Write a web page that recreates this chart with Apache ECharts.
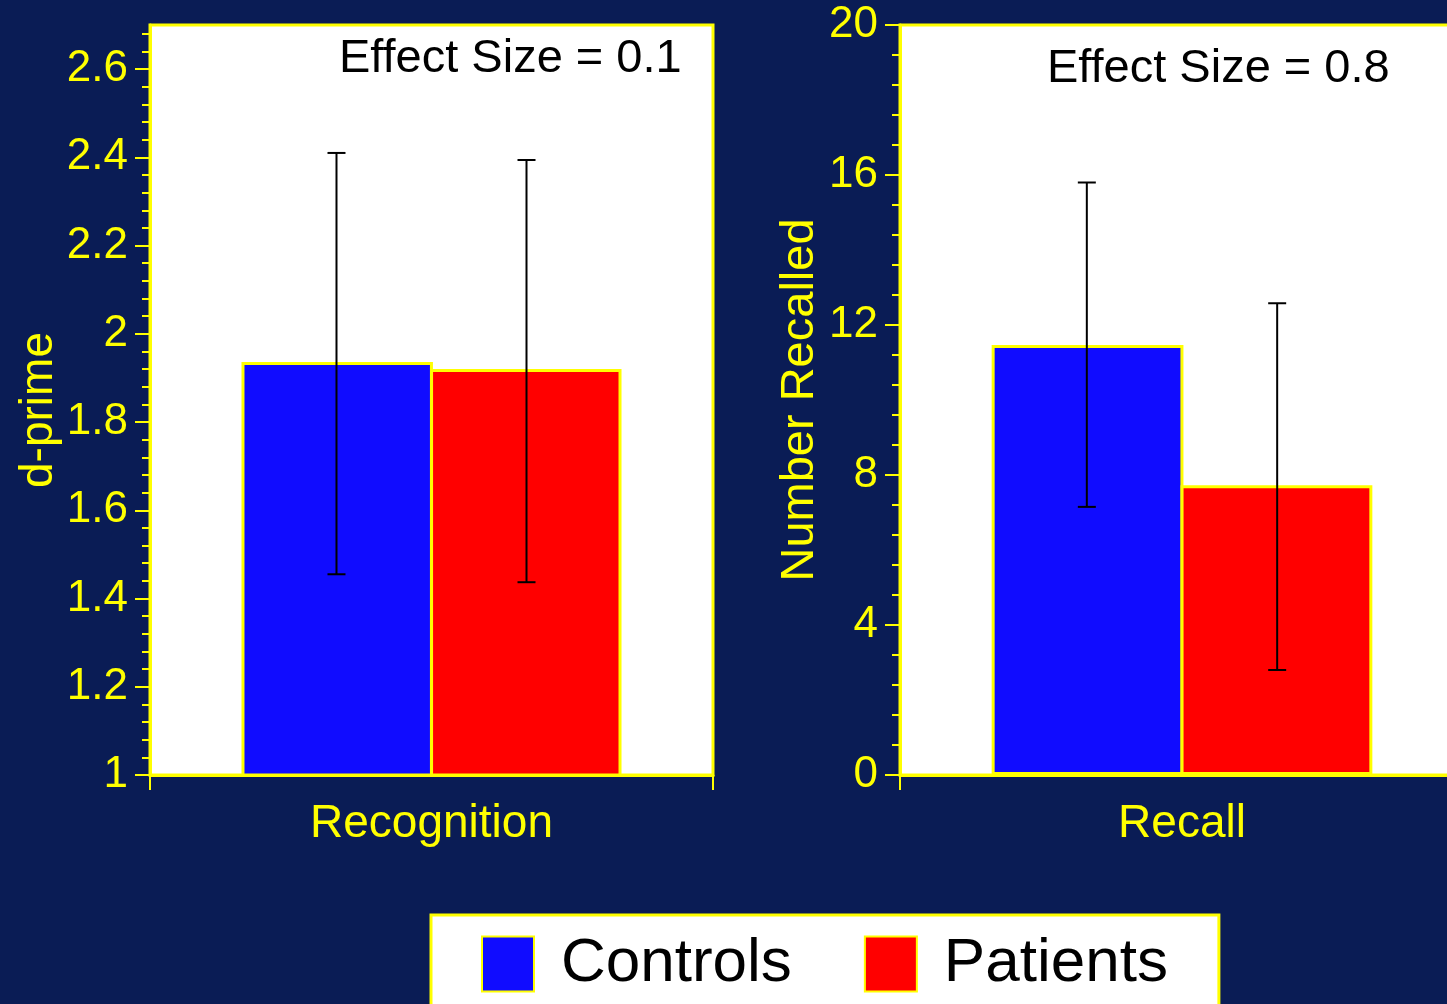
<!DOCTYPE html>
<html>
<head>
<meta charset="utf-8">
<script src="https://cdn.jsdelivr.net/npm/echarts@6/dist/echarts.min.js"></script>
<style>
html,body{margin:0;padding:0;background:#0a1c55;overflow:hidden;}
#chart{width:1470px;height:1004px;}
</style>
</head>
<body>
<div id="chart"></div>
<script>
const categoriesLeft = ['Recognition'];
const categoriesRight = ['Recall'];
const seriesNames = ['Controls', 'Patients'];
const recognitionMeans = [1.936, 1.92];
const recognitionLow = [1.455, 1.437];
const recognitionHigh = [2.41, 2.394];
const recallMeans = [11.47, 7.73];
const recallLow = [7.15, 2.8];
const recallHigh = [15.8, 12.58];
const dprimeTicks = [1, 1.2, 1.4, 1.6, 1.8, 2, 2.2, 2.4, 2.6];
const recalledTicks = [0, 4, 8, 12, 16, 20];
const effectSizes = ['Effect Size = 0.1', 'Effect Size = 0.8'];

const YEL = '#ffff00';
const BLUE = '#100cff';
const RED = '#ff0000';
const FONT = 'Liberation Sans, Arial, sans-serif';
const CAT_GAP = 0.325;

// minor tick positions: split each major interval into 5
const dprimeMinor = [];
for (let i = 0; i < dprimeTicks.length; i++) {
  const a = dprimeTicks[i];
  const step = 0.2 / 5;
  for (let k = 1; k <= 4; k++) dprimeMinor.push(+(a + k * step).toFixed(3));
}

const chart = echarts.init(document.getElementById('chart'));

function errItem(side) {
  return function (params, api) {
    const x = api.value(0);
    const lo = api.coord([x, api.value(1)]);
    const hi = api.coord([x, api.value(2)]);
    const bw = api.size([1, 0])[0];
    const cx = lo[0] + side * bw * (1 - CAT_GAP) / 4;
    const hw = 9;
    const st = { stroke: '#000', lineWidth: 2 };
    return {
      type: 'group',
      children: [
        { type: 'line', shape: { x1: cx, y1: hi[1], x2: cx, y2: lo[1] }, style: st },
        { type: 'line', shape: { x1: cx - hw, y1: hi[1], x2: cx + hw, y2: hi[1] }, style: st },
        { type: 'line', shape: { x1: cx - hw, y1: lo[1], x2: cx + hw, y2: lo[1] }, style: st }
      ]
    };
  };
}

const labelStyle = { color: YEL, fontSize: 44, fontFamily: FONT };
const catLabelStyle = { color: YEL, fontSize: 46, fontFamily: FONT };
const barGapPct = (CAT_GAP * 100) + '%';

const option = {
  backgroundColor: '#0a1c55',
  animation: false,
  textStyle: { fontFamily: FONT },
  title: [
    { text: effectSizes[0], left: 339, top: 36, padding: 0,
      textStyle: { fontSize: 47, color: '#000', fontWeight: 'normal', fontFamily: FONT } },
    { text: effectSizes[1], left: 1047, top: 46, padding: 0,
      textStyle: { fontSize: 47, color: '#000', fontWeight: 'normal', fontFamily: FONT } }
  ],
  legend: {
    data: seriesNames,
    left: 431, top: 915,
    orient: 'horizontal',
    padding: [18, 51, 18, 50],
    itemWidth: 52, itemHeight: 55, itemGap: 72,
    icon: 'rect',
    backgroundColor: '#ffffff',
    borderColor: YEL, borderWidth: 3,
    textStyle: { fontSize: 62, color: '#000', fontFamily: FONT, padding: [0, 0, 0, 22] },
    selectedMode: false
  },
  grid: [
    { left: 150, top: 25, width: 563, height: 750, show: true, backgroundColor: '#ffffff',
      borderColor: YEL, borderWidth: 3, containLabel: false },
    { left: 900, top: 25, width: 564, height: 750, show: true, backgroundColor: '#ffffff',
      borderColor: YEL, borderWidth: 3, containLabel: false }
  ],
  xAxis: [
    { type: 'category', gridIndex: 0, data: categoriesLeft,
      axisLine: { lineStyle: { color: YEL, width: 3 } },
      axisTick: { show: true, length: 15, lineStyle: { color: YEL, width: 2 } },
      axisLabel: Object.assign({ margin: 26 }, catLabelStyle) },
    { type: 'category', gridIndex: 1, data: categoriesRight,
      axisLine: { lineStyle: { color: YEL, width: 3 } },
      axisTick: { show: true, length: 15, lineStyle: { color: YEL, width: 2 } },
      axisLabel: Object.assign({ margin: 26 }, catLabelStyle) }
  ],
  yAxis: [
    { type: 'value', gridIndex: 0, position: 'left', min: 1, max: 2.7, interval: 0.2,
      name: 'd-prime', nameLocation: 'middle', nameGap: 88,
      nameTextStyle: { color: YEL, fontSize: 46, fontFamily: FONT, padding: [0, 20, 0, 0] },
      axisLine: { show: true, lineStyle: { color: YEL, width: 3 } },
      axisTick: { show: true, length: 15, customValues: dprimeTicks, lineStyle: { color: YEL, width: 2 } },
      axisLabel: Object.assign({ margin: 22, customValues: dprimeTicks }, labelStyle),
      splitLine: { show: false } },
    { type: 'value', gridIndex: 0, position: 'left', offset: 0, min: 1, max: 2.7,
      axisLine: { show: false },
      axisTick: { show: true, length: 8, customValues: dprimeMinor, lineStyle: { color: YEL, width: 2 } },
      axisLabel: { show: false },
      splitLine: { show: false } },
    { type: 'value', gridIndex: 1, position: 'left', min: 0, max: 20, interval: 4,
      name: 'Number Recalled', nameLocation: 'middle', nameGap: 76,
      nameTextStyle: { color: YEL, fontSize: 47, fontFamily: FONT },
      axisLine: { show: true, lineStyle: { color: YEL, width: 3 } },
      axisTick: { show: true, length: 15, customValues: recalledTicks, lineStyle: { color: YEL, width: 2 } },
      minorTick: { show: true, splitNumber: 5, length: 8, lineStyle: { color: YEL, width: 2 } },
      axisLabel: Object.assign({ margin: 22, customValues: recalledTicks }, labelStyle),
      splitLine: { show: false } }
  ],
  series: [
    { name: seriesNames[0], type: 'bar', xAxisIndex: 0, yAxisIndex: 0,
      data: [recognitionMeans[0]], barCategoryGap: barGapPct, barGap: '-1.5%',
      itemStyle: { color: BLUE, borderColor: YEL, borderWidth: 3 } },
    { name: seriesNames[1], type: 'bar', xAxisIndex: 0, yAxisIndex: 0,
      data: [recognitionMeans[1]], barCategoryGap: barGapPct, barGap: '-1.5%',
      itemStyle: { color: RED, borderColor: YEL, borderWidth: 3 } },
    { name: seriesNames[0], type: 'bar', xAxisIndex: 1, yAxisIndex: 2,
      data: [recallMeans[0]], barCategoryGap: barGapPct, barGap: '-1.5%',
      itemStyle: { color: BLUE, borderColor: YEL, borderWidth: 3 } },
    { name: seriesNames[1], type: 'bar', xAxisIndex: 1, yAxisIndex: 2,
      data: [recallMeans[1]], barCategoryGap: barGapPct, barGap: '-1.5%',
      itemStyle: { color: RED, borderColor: YEL, borderWidth: 3 } },
    { type: 'custom', xAxisIndex: 0, yAxisIndex: 0, z: 10, renderItem: errItem(-1),
      data: [[0, recognitionLow[0], recognitionHigh[0]]] },
    { type: 'custom', xAxisIndex: 0, yAxisIndex: 0, z: 10, renderItem: errItem(1),
      data: [[0, recognitionLow[1], recognitionHigh[1]]] },
    { type: 'custom', xAxisIndex: 1, yAxisIndex: 2, z: 10, renderItem: errItem(-1),
      data: [[0, recallLow[0], recallHigh[0]]] },
    { type: 'custom', xAxisIndex: 1, yAxisIndex: 2, z: 10, renderItem: errItem(1),
      data: [[0, recallLow[1], recallHigh[1]]] }
  ]
};
chart.setOption(option);
</script>
</body>
</html>
